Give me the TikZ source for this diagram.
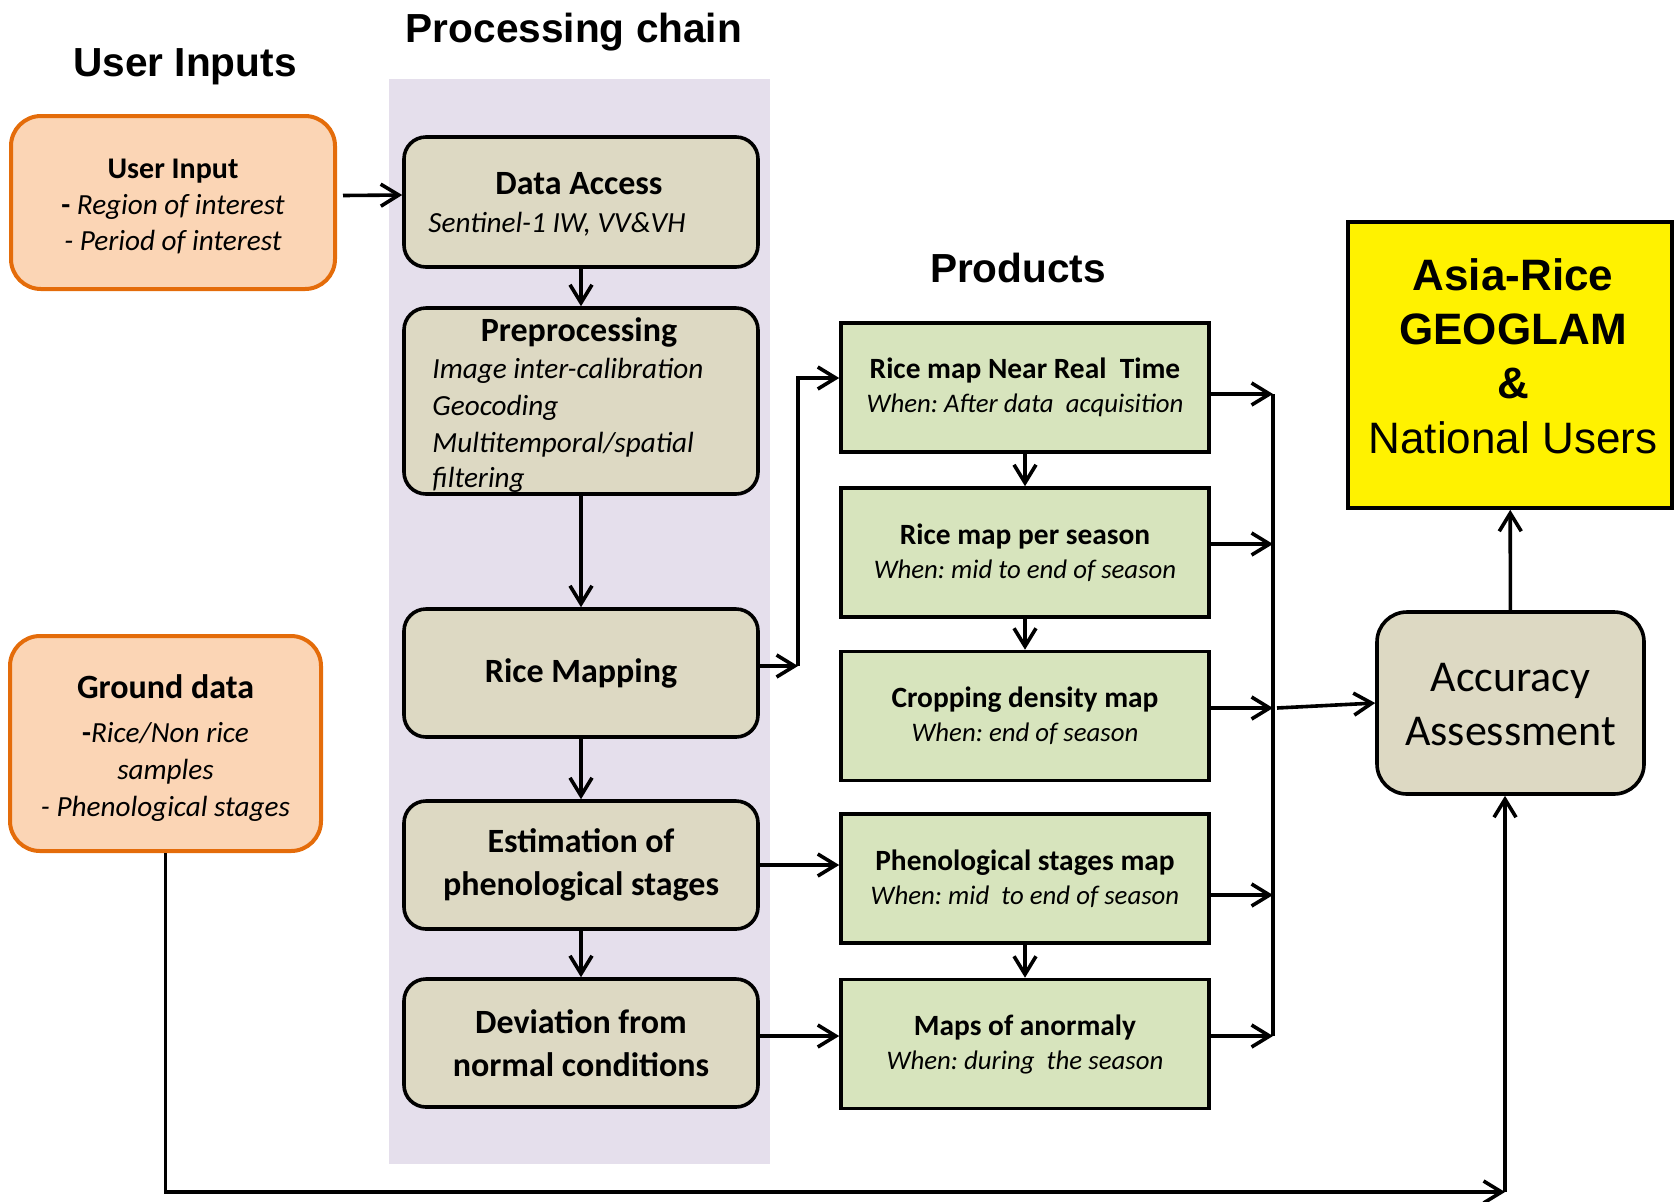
\documentclass[tikz,border=0pt]{standalone}
\usepackage{fontspec}
\setmainfont{Carlito}
\newfontfamily\arialf{Liberation Sans}
\usetikzlibrary{arrows.meta}
\definecolor{peach}{HTML}{FBD5B5}
\definecolor{orangeb}{HTML}{E46C0A}
\definecolor{lav}{HTML}{E5DFEC}
\definecolor{tanf}{HTML}{DDD9C3}
\definecolor{grn}{HTML}{D7E4BD}
\newcommand\prodtitle{\upshape\bfseries\fontsize{14.7}{17}\selectfont}
\begin{document}
\frenchspacing
\begin{tikzpicture}[x=0.5pt,y=-0.5pt,
 proc/.style={draw,line width=1.8pt,rounded corners=11pt,fill=tanf,minimum width=177pt,align=center,inner sep=0pt},
 prod/.style={draw,line width=1.8pt,fill=grn,minimum width=184pt,minimum height=64.5pt,align=center,inner sep=0pt,font=\fontsize{13.4}{17}\selectfont\itshape},
 inp/.style={draw=orangeb,line width=2pt,fill=peach,rounded corners=15pt,inner sep=0pt},
 arr/.style={line width=1.8pt,-{Straight Barb[length=9pt,width=11pt,line width=1.8pt]}},
 ln/.style={line width=1.8pt},
 ttl/.style={font=\arialf\bfseries\fontsize{20.3}{24}\selectfont,anchor=base,inner sep=0pt},
 ptitle/.style={font=\bfseries\fontsize{17}{21.5}\selectfont},
 txt/.style={inner sep=0pt},
]
\useasboundingbox (0,0) rectangle (1680,1201);
\fill[lav] (389,79) rectangle (770,1164);

% titles
\node[ttl] (t1) at (185,76) {User Inputs};
\node[ttl] (t2) at (574,42) {Processing chain};
\node[ttl] (t3) at (1018,282) {Products};

% inputs
\node[inp,minimum width=162pt,minimum height=86.5pt] (ui) at (173,202.5) {};
\node[txt,align=center,font=\fontsize{14.6}{18}\selectfont\itshape] (uit) at (173,206)
 {{\upshape\bfseries\fontsize{15}{18}\selectfont User Input}\\{\upshape\bfseries -} Region of interest\\- Period of interest};
\node[inp,minimum width=155.5pt,minimum height=107.5pt] (gd) at (165.5,743.5) {};
\node[txt,align=center,font=\fontsize{14.6}{18.5}\selectfont\itshape] (gdt) at (165.5,748)
 {{\upshape\bfseries\fontsize{17}{20}\selectfont Ground data}\\[3.5pt]{\upshape\bfseries -}Rice/Non rice\\samples\\- Phenological stages};

% processing chain
\node[proc,minimum height=65pt] (da) at (581,202) {};
\node[txt,ptitle,anchor=base] (dat) at (579,194) {Data Access};
\node[txt,anchor=base west,font=\itshape\fontsize{14.6}{18}\selectfont] (das) at (428,232) {Sentinel-1 IW, VV\&VH};

\node[proc,minimum height=93pt] (pre) at (581,401) {};
\node[txt,ptitle,anchor=base] (pret) at (579,341) {Preprocessing};
\node[txt,anchor=base west,font=\itshape\fontsize{14.6}{18}\selectfont] (pl1) at (432,378) {Image inter-calibration};
\node[txt,anchor=base west,font=\itshape\fontsize{14.6}{18}\selectfont] (pl2) at (432,415) {Geocoding};
\node[txt,anchor=base west,font=\itshape\fontsize{14.6}{18}\selectfont] (pl3) at (432,452) {Multitemporal/spatial};
\node[txt,anchor=base west,font=\itshape\fontsize{14.6}{18}\selectfont] (pl4) at (432,487) {filtering};

\node[proc,ptitle,minimum height=64pt] (rm) at (581,673) {Rice Mapping};
\node[proc,ptitle,minimum height=64pt] (est) at (581,865) {Estimation of\\phenological stages};
\node[proc,ptitle,minimum height=64pt] (dev) at (581,1043) {Deviation from\\normal conditions};

% products
\node[prod] (p1) at (1025,387.5) {{\prodtitle Rice map Near Real\ \ Time}\\When: After data\ \ acquisition};
\node[prod] (p2) at (1025,552.5) {{\prodtitle Rice map per season}\\When: mid to end of season};
\node[prod] (p3) at (1025,716) {{\prodtitle Cropping density map}\\When: end of season};
\node[prod] (p4) at (1025,878.5) {{\prodtitle Phenological stages map}\\When: mid\ \ to end of season};
\node[prod] (p5) at (1025,1044) {{\prodtitle Maps of anormaly}\\When: during\ \ the season};

% users
\node[draw,line width=1.8pt,fill=yellow,minimum width=162pt,minimum height=143pt] (yl) at (1510,365) {};
\node[txt,anchor=base,font=\arialf\bfseries\fontsize{22}{26}\selectfont] (y1) at (1513,290) {Asia-Rice};
\node[txt,anchor=base,font=\arialf\bfseries\fontsize{22}{26}\selectfont] (y2) at (1513,344) {GEOGLAM};
\node[txt,anchor=base,font=\arialf\bfseries\fontsize{22}{26}\selectfont] (y3) at (1513,398) {\&};
\node[txt,anchor=base,font=\arialf\fontsize{22}{26}\selectfont] (y4) at (1513,453) {National Users};

\node[draw,line width=1.8pt,rounded corners=15pt,fill=tanf,minimum width=133.5pt,minimum height=91pt,inner sep=0pt] (acc) at (1510.5,703) {};
\node[txt,align=center,font=\fontsize{22}{27}\selectfont] (acct) at (1510.5,705) {Accuracy\\Assessment};

% connectors
\draw[arr] ([xshift=3pt,yshift=3.5pt]ui.east) -- ([yshift=3.5pt]da.west);
\draw[arr] (da) -- (pre);
\draw[arr] (pre) -- (rm);
\draw[arr] (rm) -- (est);
\draw[arr] (est) -- (dev);

\coordinate (j) at (798,666);
\draw[arr] (rm.east |- j) -- (j);
\draw[arr] (j) |- ([yshift=4.75pt]p1.west);
\draw[arr] (est.east) -- (est.east -| p4.west);
\draw[arr] ([yshift=3.5pt]dev.east) -- ([yshift=3.5pt]dev.east -| p5.west);
\draw[arr] (p1) -- (p2);
\draw[arr] (p2) -- (p3);
\draw[arr] (p4) -- (p5);

\coordinate (bx) at (1273,0);
\coordinate (b1) at ([yshift=-3.25pt]p1.east -| bx);
\coordinate (b2) at ([yshift=4.25pt]p2.east -| bx);
\coordinate (b3) at ([yshift=4pt]p3.east -| bx);
\coordinate (b4) at ([yshift=-8.25pt]p4.east -| bx);
\coordinate (b5) at ([yshift=4pt]p5.east -| bx);
\draw[arr] (p1.east |- b1) -- (b1);
\draw[arr] (p2.east |- b2) -- (b2);
\draw[arr] (p3.east |- b3) -- (b3);
\draw[arr] (p4.east |- b4) -- (b4);
\draw[arr] (p5.east |- b5) -- (b5);
\draw[ln] (b1) -- (b5);
\draw[arr] ([xshift=2pt]b3) -- (acc.west);
\draw[arr] (acc) -- (yl);

\coordinate (c) at (1505,1192);
\draw[arr] (gd.south) |- (c);
\draw[arr] (c) -- (c |- acc.south);
\end{tikzpicture}
\end{document}
